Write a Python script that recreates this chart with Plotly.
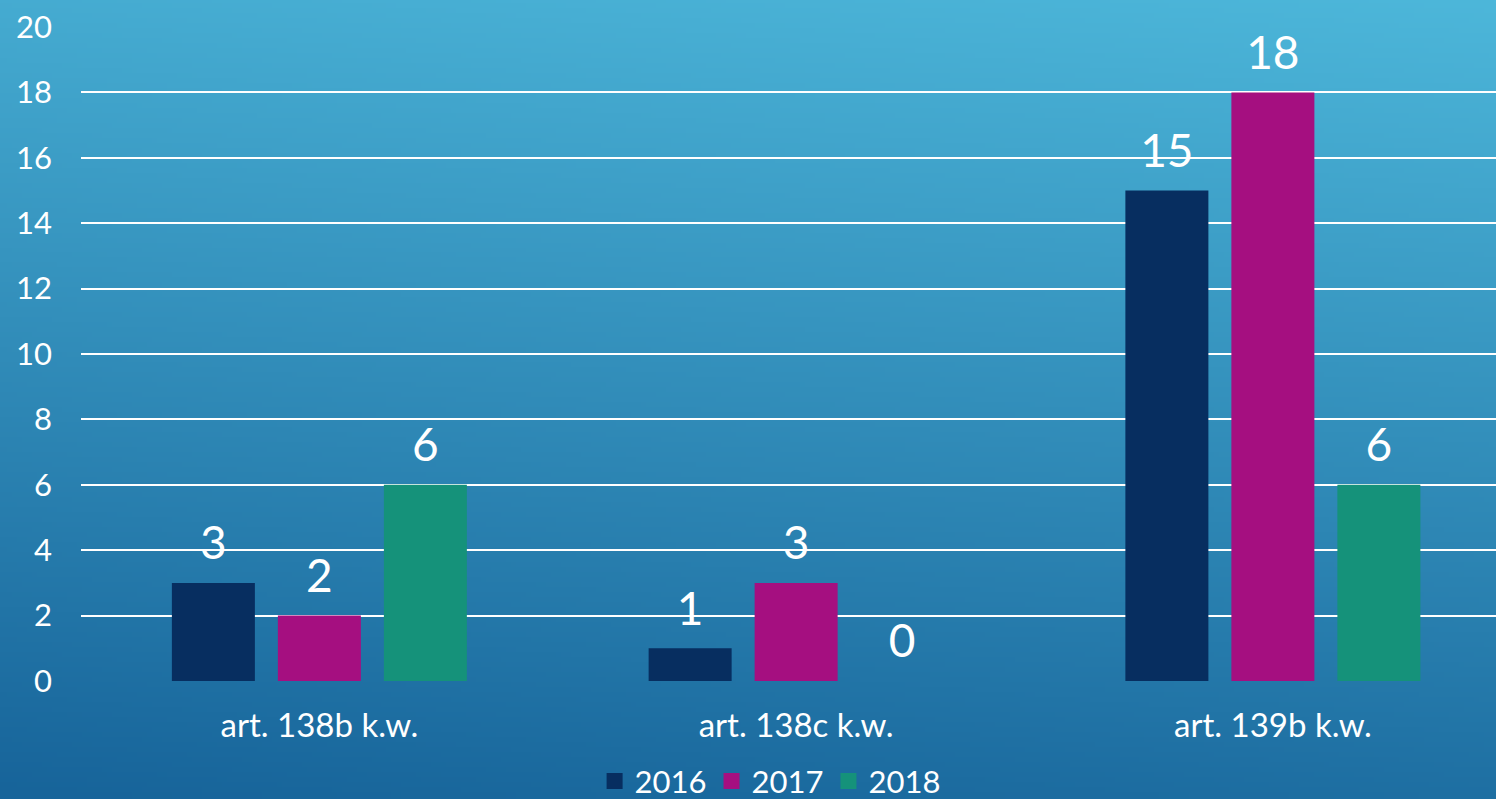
import base64, struct, zlib
import numpy as np
import plotly.graph_objects as go

categories = ["art. 138b k.w.", "art. 138c k.w.", "art. 139b k.w."]
years = ["2016", "2017", "2018"]
values_2016 = [3, 1, 15]
values_2017 = [2, 3, 18]
values_2018 = [6, 0, 6]
colors = ["#072E60", "#A50F80", "#15927A"]
y_ticks = [0, 2, 4, 6, 8, 10, 12, 14, 16, 18, 20]

W, H = 1496, 799
L, R, T, B = 81, 0, 27, 118
FONT = "Lato"
BARGAP = 0.333

# gradient background image
gw, gh = 300, 160
xs = np.linspace(0, 1, gw)[None, :]
ys = np.linspace(0, 1, gh)[:, None]
s = np.clip(0.86 * ys + 0.14 * (1 - xs), 0, 1)
c0 = np.array([77, 183, 218], dtype=float)
c1 = np.array([23, 100, 154], dtype=float)
img = (c0[None, None, :] * (1 - s[..., None]) + c1[None, None, :] * s[..., None]).astype(np.uint8)
raw = b"".join(b"\x00" + img[r].tobytes() for r in range(gh))

def chunk(tag, data):
    c = struct.pack(">I", len(data)) + tag + data
    return c + struct.pack(">I", zlib.crc32(tag + data) & 0xffffffff)

png = b"\x89PNG\r\n\x1a\n" + chunk(b"IHDR", struct.pack(">IIBBBBB", gw, gh, 8, 2, 0, 0, 0)) \
    + chunk(b"IDAT", zlib.compress(raw, 9)) + chunk(b"IEND", b"")
src = "data:image/png;base64," + base64.b64encode(png).decode()

pw, ph = W - L - R, H - T - B

fig = go.Figure()
series = [values_2016, values_2017, values_2018]
for name, vals, col in zip(years, series, colors):
    fig.add_trace(go.Bar(
        x=categories, y=vals, name=name, marker=dict(color=col, line=dict(width=0)),
        showlegend=False, hoverinfo="skip",
    ))
# value labels, grouped like the bars
for name, vals in zip(years, series):
    fig.add_trace(go.Scatter(
        x=categories, y=vals, mode="markers+text", text=[str(v) for v in vals],
        textposition="top center", textfont=dict(family=FONT, size=46, color="white"),
        marker=dict(size=18, opacity=0), showlegend=False, cliponaxis=False,
        hoverinfo="skip",
    ))
# legend entries on a hidden overlay axis
for name, col in zip(years, colors):
    fig.add_trace(go.Scatter(
        x=[None], y=[None], name=name, mode="markers",
        marker=dict(symbol="square", size=18, color=col),
        xaxis="x2", yaxis="y2",
    ))

fig.update_layout(
    width=W, height=H,
    margin=dict(l=L, r=R, t=T, b=B, autoexpand=False),
    paper_bgcolor="#2080B0",
    plot_bgcolor="rgba(0,0,0,0)",
    barmode="group", bargap=BARGAP, bargroupgap=0.217,
    scattermode="group", scattergap=BARGAP,
    font=dict(family=FONT, color="white", size=30),
    images=[dict(source=src, xref="paper", yref="paper",
                 x=-L / pw, y=1 + T / ph, sizex=W / pw, sizey=H / ph,
                 xanchor="left", yanchor="top", sizing="stretch", layer="below")],
    legend=dict(orientation="h", x=0.487, xanchor="center", y=-0.112, yanchor="top",
                font=dict(family=FONT, size=31, color="white"),
                bgcolor="rgba(0,0,0,0)", itemwidth=30, tracegroupgap=0),
    showlegend=True,
    xaxis2=dict(overlaying="x", visible=False, range=[0, 1]),
    yaxis2=dict(overlaying="y", visible=False, range=[0, 1]),
    yaxis=dict(range=[0, 20], tickvals=y_ticks, showgrid=True, gridcolor="white",
               gridwidth=2, zeroline=False, showline=False, ticks="",
               ticklabelstandoff=28, tickfont=dict(family=FONT, size=31, color="white")),
    xaxis=dict(range=[-0.5, 2.468], showgrid=False, showline=False, ticks="",
               ticklabelstandoff=22, tickfont=dict(family=FONT, size=33, color="white")),
)

fig.write_html("out.html")
